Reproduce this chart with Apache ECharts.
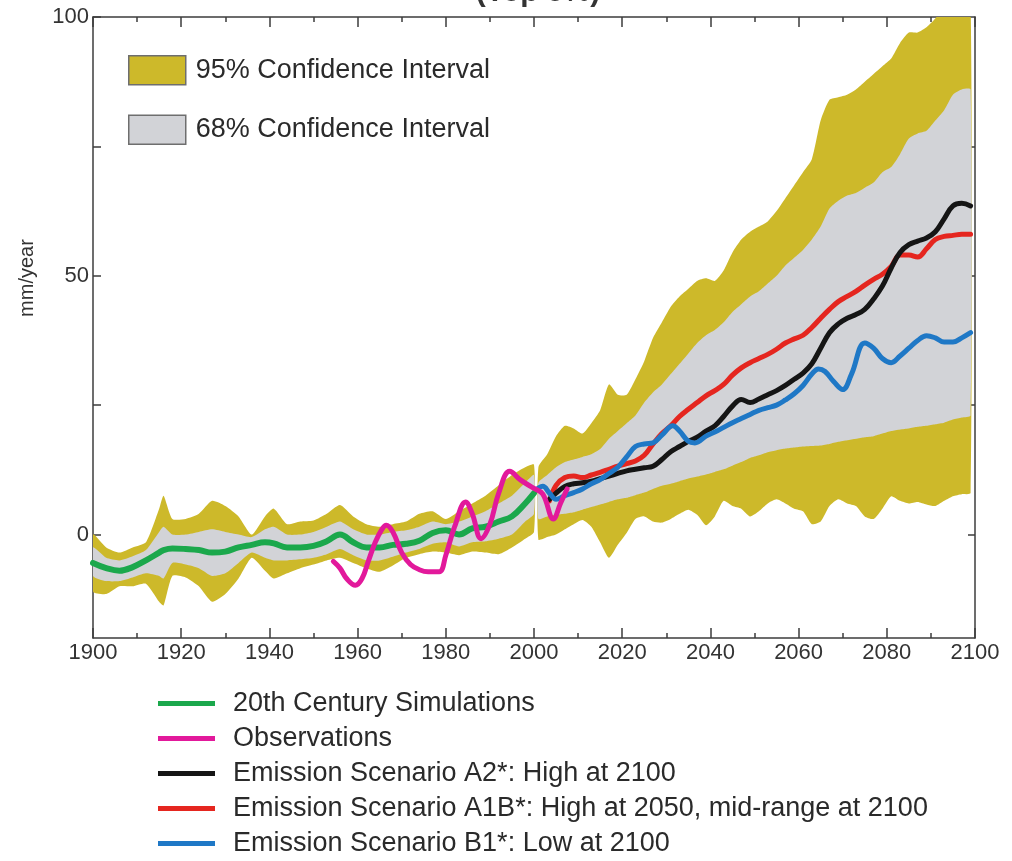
<!DOCTYPE html>
<html><head><meta charset="utf-8">
<script src="https://cdn.jsdelivr.net/npm/echarts@6/dist/echarts.min.js"></script>
<style>html,body{margin:0;padding:0;background:#fff}#c{width:1012px;height:861px}</style>
</head><body><div id="c"></div>
<script>
// ---- 20th century bands and simulation ----
const yrs20 = [1900,1903,1906,1909,1912,1915,1916,1918,1921,1924,1927,1930,1933,1936,1939,1941,1944,1947,1950,1953,1956,1959,1962,1965,1968,1971,1974,1977,1980,1983,1986,1989,1992,1995,1998,2000];
const sim20 = [-5.5,-6.5,-7,-6.3,-5,-3.5,-3,-2.7,-2.8,-3,-3.5,-3.3,-2.5,-2,-1.5,-1.7,-2.5,-2.5,-2.2,-1.3,0,-1.5,-2.5,-2.5,-2,-1.8,-1.2,0.3,0.8,0,1.2,1.5,2.5,3.5,6,8];
const u95a = [0,-2.5,-3.5,-2.5,-1.5,5,7.5,3,3,4,6.5,5.5,3.5,0,3.5,5,2,2.5,2.7,4,5.7,3.5,2,1.5,2,2.5,4,4.5,3,4.5,6,7.5,9.5,11.5,13,13.5];
const l95a = [-11,-11.5,-10,-10,-9.5,-13,-13.7,-8,-8.3,-10,-13,-11.5,-8.5,-4.5,-7,-8.5,-7.5,-6.5,-5.8,-5,-4.5,-5.5,-6.5,-7.2,-6,-4.5,-3.8,-3.3,-3.5,-4,-3.3,-3.5,-3.8,-2.5,-0.8,0.5];
const u68a = [-2.5,-4.5,-5,-4.2,-3,0.5,1.5,0,0,0.5,1,0.5,0,-0.5,1,1.5,0,0,0.5,1.5,2.5,1,0,0,0.5,0.8,1.5,2.5,2,2.5,3.5,4.5,6,7.5,10,11.5];
const l68a = [-8,-9,-9,-8.3,-7.5,-8,-8.5,-5.5,-5.8,-6.5,-8,-7.5,-5.5,-3.5,-4.5,-5,-5,-4.8,-4.5,-3.8,-2.8,-4,-5,-5,-4.3,-3.5,-2.8,-1.8,-1.5,-2.3,-1.5,-1.3,-0.8,0,2.5,4];

// ---- projection bands ----
const yrsP = [2001,2003,2005,2007,2009,2011,2013,2015,2017,2019,2021,2023,2025,2027,2029,2031,2033,2035,2037,2039,2041,2043,2045,2047,2049,2051,2053,2055,2057,2059,2061,2063,2065,2067,2069,2071,2073,2075,2077,2079,2081,2083,2085,2087,2089,2091,2093,2095,2097,2099];
const u95b = [13,15.5,19,21,20.5,19.5,21.5,24,29,27,27,30,33.5,38,41,44,46,47.5,49,49.5,49,51,54.5,57,58.5,59.5,60.5,62.5,65,67.5,70,72.5,80,84,84.5,85,86,87.5,89,90.5,92,95,97,97,98,99.7,102,103,103,103];
const u68b = [10,11.5,13,14,14.5,15,15.5,16.5,18.5,20,21.5,23,25.5,27.5,29,31,33,35,37,38.5,39.5,41,43,44.5,46,47,48.5,50,52,53.5,55,57,59.5,63,64.5,65.5,66,67,68,70,71,73.5,76.5,77.5,78,80,82,85,86,86];
const l68b = [3,3.5,3.8,4,4.3,4.8,5.3,5.8,6.3,6.8,7.1,7.6,8.1,8.8,9.4,9.8,10.3,10.8,11.2,11.6,12.1,12.6,13.3,14,14.8,15.3,15.9,16.3,16.6,16.8,17,17.1,17.2,17.5,17.9,18.2,18.5,18.8,19,19.5,20,20.3,20.5,20.8,21,21.3,21.6,22.2,22.6,23];
const l95b = [-1,-0.5,0,1,2,2.8,1.5,-1.5,-4.5,-2,0.3,3,3.5,2.5,2.3,3,4,4.8,3.8,1.8,3.5,6.5,5.5,5,3.5,4.5,6,6.8,6,5,4.5,2,2.5,5.5,6.8,6,5.5,3.5,3,5,7.4,6.5,6,6.3,5.8,5.5,6.5,7.4,7.8,8];

// ---- observations ----
const obsYears = [1954.5,1956,1957.5,1959.5,1961,1962.5,1964,1965.5,1966.5,1968,1970,1972,1974,1976,1978.5,1980,1982,1984.5,1986,1988,1990,1992,1994.5,1997,1999.8,2002,2004.4,2006,2007.5];
const obsVals  = [-5.2,-6.5,-8.5,-9.8,-8.5,-5,-1.5,1,1.8,0.5,-3.5,-5.8,-6.8,-7.2,-7.2,-4,1.5,6.3,4,-0.8,2,8,12.2,10.5,9,7.8,3,6,8.8];

// ---- scenarios ----
const a2Years = [2003.5,2005,2007,2009,2011,2013,2015,2017,2019,2021,2023,2025,2027,2029,2031,2033,2035,2037,2039,2041,2043,2045,2047,2049,2051,2053,2055,2057,2059,2061,2063,2065,2067,2069,2071,2073,2075,2077,2079,2081,2083,2085,2087,2089,2091,2093,2095,2097,2099];
const a2Vals  = [6.8,8,9.3,9.8,10,10.3,10.8,11.3,11.8,12.3,12.6,12.9,13.2,14.5,16,17,18,18.8,20,21,22.8,24.8,26.1,25.5,26.2,27,27.8,28.8,30,31.2,33,36,39,40.7,41.8,42.5,43.5,45.5,48,51.5,54.5,56,56.7,57.3,58.5,61,63.5,64,63.5];
const a1bYears = [2003.5,2005,2007,2009,2011,2013,2015,2017,2019,2021,2023,2025,2027,2029,2031,2033,2035,2037,2039,2041,2043,2045,2047,2049,2051,2053,2055,2057,2059,2061,2063,2065,2067,2069,2071,2073,2075,2077,2079,2081,2083,2085,2087,2089,2091,2093,2095,2097,2099];
const a1bVals  = [6.5,9.5,11,11.3,11,11.5,12,12.6,13.2,13.7,14.2,15.3,17.5,19.5,21,22.8,24.2,25.5,26.8,27.8,29,30.8,32.2,33.2,34,34.8,35.8,37,37.8,38.5,40,41.8,43.5,45,46,47,48.2,49.3,50.3,51.8,54,54,53.6,55.2,57,57.6,57.8,58,58];
const b1Years = [2001,2002,2003.5,2005,2007,2009,2011,2013,2015,2017,2019,2021,2023,2025,2027,2029,2031.5,2033,2035,2036.5,2039,2041,2043,2045,2047,2049,2051,2053,2055,2057,2059,2061,2063,2064.5,2066,2068,2070,2072,2075,2077,2079,2081,2083,2085,2087,2089,2091,2093,2095,2097,2099];
const b1Vals  = [9,9.3,8,6.8,7.5,8.1,8.8,9.8,10.6,11.8,13,15,17,17.5,17.7,19.2,21,20,18,17.7,19,19.8,20.7,21.6,22.4,23.2,24,24.5,25,26,27.2,28.8,31,32,31.5,29.5,28,31,37,36,34,33.2,34.5,36,37.5,38.4,38,37.2,37.2,38,39];

const xTicks = [1900,1920,1940,1960,1980,2000,2020,2040,2060,2080,2100];
const yLabelValues = [0,50,100];
const yTickValues = [0,25,50,75,100];

const YEL = '#cdb92a', GRY = '#d2d3d7';
const FONT = '"Liberation Sans", Arial, sans-serif';

function pairs(xs, ys){ return xs.map((x,i)=>[x, ys[i]]); }

// band drawn as one polygon from the series' own data, through the axes (api.coord)
function band(name, xs, lo, hi, color){
  return {
    type:'custom', name:name, data:xs.map((x,i)=>[x, lo[i], hi[i]]),
    encode:{x:0, y:[1,2]}, clip:true, silent:true, z:1,
    itemStyle:{color:color}, color:color,
    renderItem:function(params, api){
      if (params.dataIndexInside !== 0) return null;
      const n = params.dataInsideLength;
      const top = [], bot = [];
      for (let i = 0; i < n; i++) {
        const x = api.value(0, i);
        top.push(api.coord([x, api.value(2, i)]));
        bot.push(api.coord([x, api.value(1, i)]));
      }
      return {type:'polygon', shape:{points:top.concat(bot.reverse()), smooth:0.2},
              style:{fill:color, stroke:null}};
    }
  };
}
function line(name, xs, ys, color, width){
  return {type:'line', name:name, data:pairs(xs,ys), symbol:'none', smooth:0.4,
          itemStyle:{color:color}, color:color, lineStyle:{color:color, width:width, cap:'round', join:'round'}, z:3};
}

const axisCol = '#3c3c3c';
const tickStyle = {color:axisCol, width:1.5};
const chart = echarts.init(document.getElementById('c'), null, {renderer:'canvas'});
chart.setOption({
  animation:false,
  backgroundColor:'#fff',
  grid:{left:93, right:37, top:17, bottom:223, containLabel:false},
  xAxis:[
    {type:'value', min:1900, max:2100, interval:20, position:'bottom',
     axisLine:{show:true, onZero:false, lineStyle:tickStyle},
     axisTick:{show:true, inside:true, length:10, lineStyle:tickStyle},
     minorTick:{show:true, splitNumber:2, length:5, lineStyle:tickStyle},
     axisLabel:{fontSize:22, color:'#333', fontFamily:FONT, margin:4,
                formatter:v=>xTicks.includes(v)?String(v):''},
     splitLine:{show:false}},
    {type:'value', min:1900, max:2100, interval:20, position:'top',
     axisLine:{show:true, onZero:false, lineStyle:tickStyle},
     axisTick:{show:true, inside:true, length:10, lineStyle:tickStyle},
     minorTick:{show:true, splitNumber:2, length:5, lineStyle:tickStyle},
     axisLabel:{show:false}, splitLine:{show:false}}
  ],
  yAxis:[
    {type:'value', min:-20, max:100, position:'left',
     axisLine:{show:true, onZero:false, lineStyle:tickStyle},
     axisTick:{show:true, inside:true, length:8, lineStyle:tickStyle, customValues:yTickValues},
     axisLabel:{fontSize:22, color:'#333', fontFamily:FONT, margin:4, customValues:yLabelValues},
     splitLine:{show:false}},
    {type:'value', min:-20, max:100, position:'right',
     axisLine:{show:true, onZero:false, lineStyle:tickStyle},
     axisTick:{show:true, inside:true, length:7, lineStyle:tickStyle, customValues:[0,25,50,75]},
     axisLabel:{show:false}, splitLine:{show:false}}
  ],
  legend:[
    {data:['95% Confidence Interval','68% Confidence Interval'], orient:'vertical', left:128, top:55, padding:0,
     icon:'rect', itemWidth:57, itemHeight:29, itemGap:29,
     itemStyle:{borderColor:'#6e6e6e', borderWidth:1.5},
     textStyle:{fontSize:27, fontFamily:FONT, color:'#2a2a2a', lineHeight:29, padding:[0,0,0,5]},
     selectedMode:false},
    {data:['20th Century Simulations','Observations','Emission Scenario A2*: High at 2100',
           'Emission Scenario A1B*: High at 2050, mid-range at 2100','Emission Scenario B1*: Low at 2100'],
     orient:'vertical', left:158, top:690, padding:0, height:171, icon:'rect', itemWidth:57, itemHeight:5, itemGap:8,
     textStyle:{fontSize:27, fontFamily:FONT, color:'#2a2a2a', lineHeight:27, padding:[0,0,0,13]},
     selectedMode:false}
  ],
  graphic:[
    {type:'text', x:538, y:8, style:{text:'(Top 5%)', font:'bold 30px '+FONT, fill:'#333',
      align:'center', verticalAlign:'bottom', textAlign:'center', textVerticalAlign:'bottom'}},
    {type:'text', x:27, y:278, rotation:Math.PI/2, style:{text:'mm/year', font:'20px '+FONT, fill:'#333',
      align:'center', verticalAlign:'middle', textAlign:'center', textVerticalAlign:'middle'}}
  ],
  series:[
    band('95% Confidence Interval', yrs20, l95a, u95a, YEL),
    band('68% Confidence Interval', yrs20, l68a, u68a, GRY),
    band('95% Confidence Interval', yrsP, l95b, u95b, YEL),
    band('68% Confidence Interval', yrsP, l68b, u68b, GRY),
    line('20th Century Simulations', yrs20, sim20, '#1ba84c', 6),
    line('Emission Scenario A1B*: High at 2050, mid-range at 2100', a1bYears, a1bVals, '#e5261f', 5),
    line('Emission Scenario A2*: High at 2100', a2Years, a2Vals, '#151515', 5),
    line('Emission Scenario B1*: Low at 2100', b1Years, b1Vals, '#1f78c6', 5),
    line('Observations', obsYears, obsVals, '#e2199b', 5)
  ]
});
</script>
</body></html>
